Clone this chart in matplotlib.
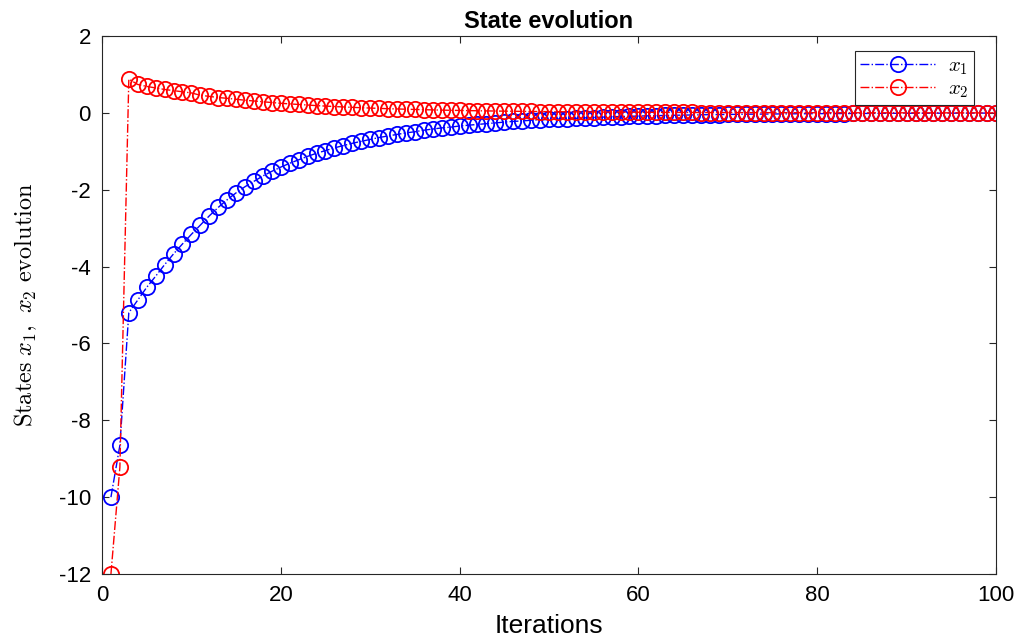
import matplotlib
matplotlib.use("Agg")
import matplotlib.pyplot as plt
import numpy as np

plt.rcParams['mathtext.fontset'] = 'cm'
plt.rcParams['axes.unicode_minus'] = False
plt.rcParams['font.family'] = ['Liberation Sans', 'DejaVu Sans']

# iteration index 1..100
k = np.arange(1, 101)

# state x1
x1 = [-10.0, -8.65, -5.2, -4.87, -4.54, -4.25, -3.95, -3.67, -3.41, -3.16,
      -2.92, -2.68, -2.46, -2.26, -2.08, -1.92, -1.78, -1.64, -1.52, -1.41,
      -1.31, -1.22, -1.13, -1.05, -0.98, -0.91, -0.85, -0.79, -0.74, -0.69,
      -0.64, -0.60, -0.56, -0.52, -0.49, -0.45, -0.42, -0.39, -0.37, -0.34,
      -0.32, -0.30, -0.28, -0.26, -0.24, -0.22, -0.21, -0.19, -0.18, -0.17,
      -0.16, -0.15, -0.14, -0.13, -0.12, -0.11, -0.10, -0.094, -0.088, -0.082,
      -0.076, -0.071, -0.066, -0.061, -0.057, -0.053, -0.049, -0.046, -0.043, -0.040,
      -0.037, -0.034, -0.032, -0.030, -0.028, -0.026, -0.024, -0.022, -0.021, -0.019,
      -0.018, -0.017, -0.016, -0.015, -0.014, -0.013, -0.012, -0.011, -0.010, -0.0095,
      -0.009, -0.008, -0.0075, -0.007, -0.0065, -0.006, -0.0055, -0.005, -0.0047, -0.0044]

# state x2
x2 = [-12.0, -9.22, 0.88, 0.74, 0.69, 0.65, 0.61, 0.58, 0.55, 0.52,
      0.46, 0.43, 0.40, 0.38, 0.355, 0.33, 0.31, 0.29, 0.27, 0.25,
      0.235, 0.22, 0.205, 0.19, 0.178, 0.166, 0.155, 0.145, 0.135, 0.126,
      0.118, 0.11, 0.103, 0.096, 0.09, 0.084, 0.078, 0.073, 0.068, 0.064,
      0.06, 0.056, 0.052, 0.049, 0.046, 0.043, 0.04, 0.037, 0.035, 0.033,
      0.031, 0.029, 0.027, 0.025, 0.023, 0.022, 0.02, 0.019, 0.018, 0.017,
      0.016, 0.015, 0.014, 0.013, 0.012, 0.011, 0.0105, 0.0098, 0.0092, 0.0086,
      0.008, 0.0075, 0.007, 0.0066, 0.0062, 0.0058, 0.0054, 0.0051, 0.0048, 0.0045,
      0.0042, 0.0039, 0.0037, 0.0034, 0.0032, 0.003, 0.0028, 0.0026, 0.0025, 0.0023,
      0.0022, 0.002, 0.0019, 0.0018, 0.0017, 0.0016, 0.0015, 0.0014, 0.0013, 0.0012]

xticks = [0, 20, 40, 60, 80, 100]
yticks = [-12, -10, -8, -6, -4, -2, 0, 2]

fig = plt.figure(figsize=(10.19, 6.44), dpi=100)
ax = fig.add_axes([0.1001, 0.1087, 0.8773, 0.8353])

ax.plot(k, x1, '-.', color='#0000ff', marker='o', markerfacecolor='none',
        markersize=11, linewidth=1, markeredgewidth=1.3, label=r'$x_1$')
ax.plot(k, x2, '-.', color='#ff0000', marker='o', markerfacecolor='none',
        markersize=11, linewidth=1, markeredgewidth=1.3, label=r'$x_2$')

ax.set_xlim(0, 100)
ax.set_ylim(-12, 2)
ax.set_xticks(xticks)
ax.set_yticks(yticks)
ax.tick_params(direction='in', length=5, top=True, right=True, pad=8,
               labelsize=16, colors='#262626', labelcolor='black')
for s in ax.spines.values():
    s.set_color('#262626')
    s.set_linewidth(0.8)

ax.set_title('State evolution', fontsize=17, fontweight='bold', pad=6)
ax.set_xlabel('Iterations', fontsize=19, labelpad=6)
ax.set_ylabel(r'$\mathrm{States}\ x_1,\ x_2\ \mathrm{evolution}$', fontsize=17.5, labelpad=14)

leg = ax.legend(loc='upper right', bbox_to_anchor=(0.975, 0.972), fontsize=15,
                fancybox=False, framealpha=1, edgecolor='#262626', borderaxespad=0,
                handlelength=3.6, handletextpad=0.6, labelspacing=0.1, borderpad=0.25)
leg.get_frame().set_linewidth(0.8)

fig.savefig('out.png', dpi=100)
